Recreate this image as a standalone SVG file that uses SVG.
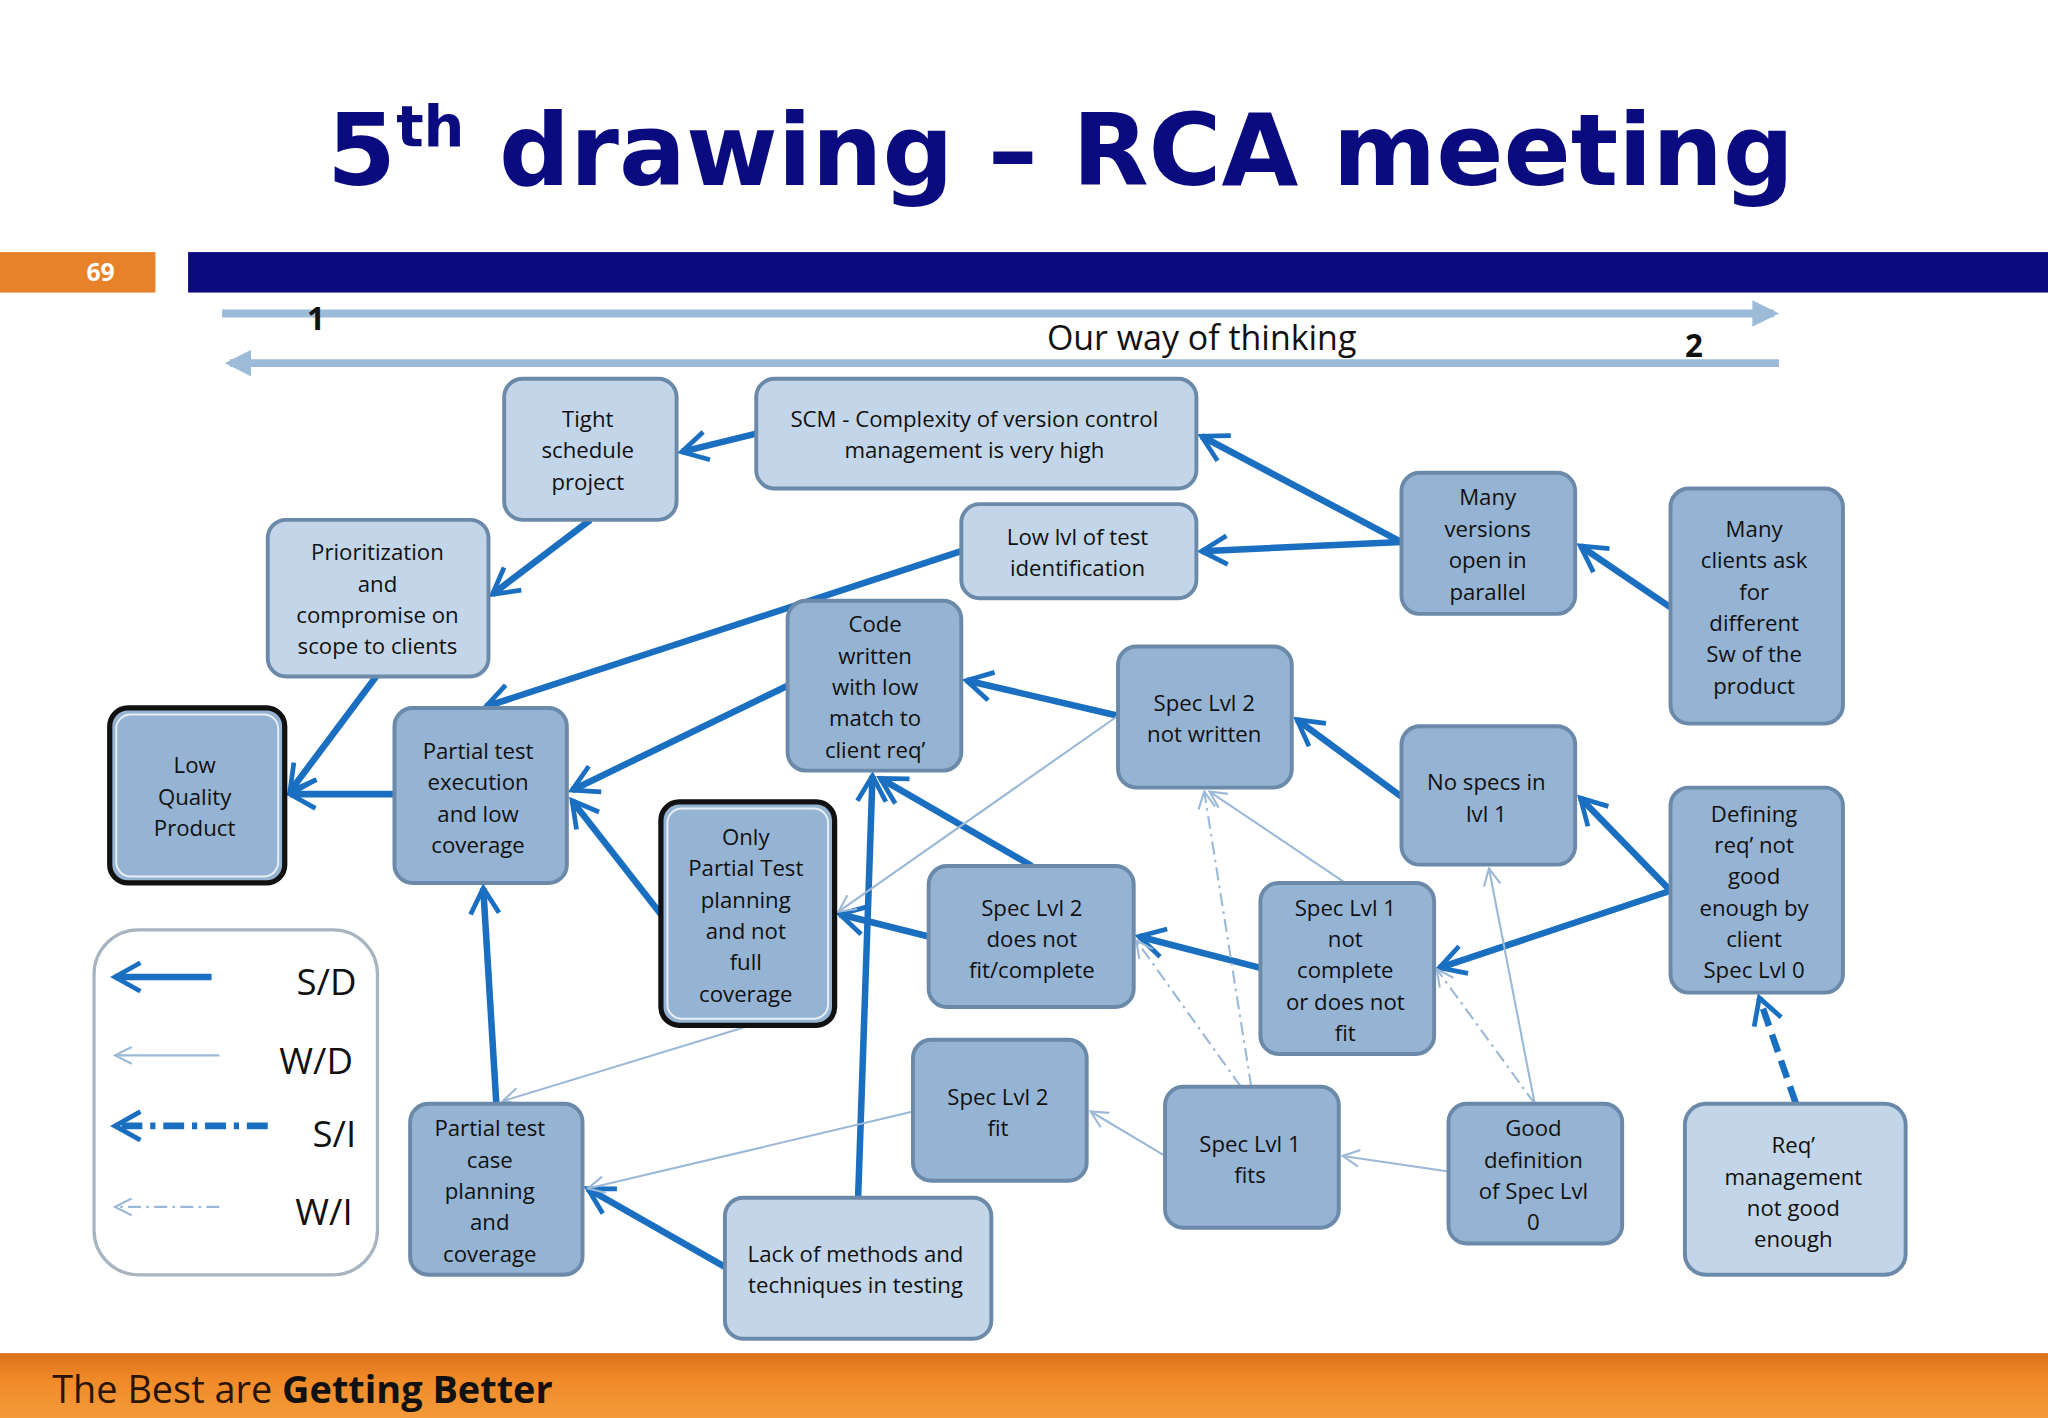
<svg xmlns="http://www.w3.org/2000/svg" width="2048" height="1418" viewBox="0 0 2048 1418">
<defs>
<linearGradient id="og" x1="0" y1="0" x2="0" y2="1"><stop offset="0" stop-color="#d9701a"/><stop offset="0.4" stop-color="#f08a28"/><stop offset="1" stop-color="#f39a3a"/></linearGradient>
<marker id="hs" viewBox="0 0 10 10" markerWidth="5.2" markerHeight="5.2" refX="8.5" refY="5" orient="auto" markerUnits="strokeWidth"><path d="M1,0.8 L8.5,5 L1,9.2" fill="none" stroke="#1a6fc0" stroke-width="1.4"/></marker>
<marker id="hw" viewBox="0 0 10 10" markerWidth="10" markerHeight="10" refX="9" refY="5" orient="auto" markerUnits="strokeWidth"><path d="M1,1 L9,5 L1,9" fill="none" stroke="#9bb8d6" stroke-width="1"/></marker>
<marker id="hb" viewBox="0 0 10 10" markerWidth="3.4" markerHeight="3.4" refX="8" refY="5" orient="auto" markerUnits="strokeWidth"><path d="M0,0 L10,5 L0,10 z" fill="#9bbbd9"/></marker>
<style>
.n rect{stroke:#6b89a8;stroke-width:3}
.d rect{fill:#95b3d3}
.l rect{fill:#c3d5e8}
text{font-family:"Open Sans","DejaVu Sans",sans-serif;fill:#111}
.n text{font-size:17px;text-anchor:middle}
.s{stroke:#1a6fc0;stroke-width:5;fill:none;marker-end:url(#hs)}
.w{stroke:#9bb8d6;stroke-width:1.6;fill:none;marker-end:url(#hw)}
.wi{stroke:#9bb8d6;stroke-width:1.6;fill:none;stroke-dasharray:10 4 2 4;marker-end:url(#hw)}
.si{stroke:#1a6fc0;stroke-width:5;fill:none;stroke-dasharray:16 6 4 6;marker-end:url(#hs)}
</style>
</defs>
<rect width="2048" height="1418" fill="#fff"/>
<g transform="scale(1.30612)">
<text x="812" y="142" font-weight="bold" font-size="76" text-anchor="middle" style="fill:#0b0b80;font-family:'DejaVu Sans',sans-serif">5<tspan font-size="44" dy="-30">th</tspan><tspan dy="30"> drawing – RCA meeting</tspan></text>
<rect x="0" y="193" width="119" height="31" fill="#e8822a"/>
<text x="77" y="215" font-size="19" font-weight="bold" text-anchor="middle" style="fill:#fff">69</text>
<rect x="144" y="193" width="1424" height="31" fill="#0b0b7e"/>
<line x1="170" y1="240" x2="1358" y2="240" stroke="#9bbbd9" stroke-width="6" marker-end="url(#hb)"/>
<line x1="1362" y1="278" x2="176" y2="278" stroke="#9bbbd9" stroke-width="6" marker-end="url(#hb)"/>
<text x="242" y="253" font-size="24" font-weight="bold" text-anchor="middle">1</text>
<text x="1297" y="273" font-size="24" font-weight="bold" text-anchor="middle">2</text>
<text x="920" y="268" font-size="26" text-anchor="middle">Our way of thinking</text>
<rect x="0" y="1036" width="1568" height="50" fill="url(#og)"/>
<text x="40" y="1074" font-size="29" style="fill:#2a1408">The Best are <tspan font-weight="bold" style="fill:#111">Getting Better</tspan></text>

<g id="connectors">
<line class="s" x1="579" y1="332" x2="522" y2="346"/>
<line class="s" x1="452" y1="398" x2="377" y2="455"/>
<line class="s" x1="1073" y1="415" x2="920" y2="334"/>
<line class="s" x1="1073" y1="415" x2="920" y2="422"/>
<line class="s" x1="1279" y1="465" x2="1210" y2="418"/>
<line class="s" x1="736" y1="422" x2="372" y2="541"/>
<line class="s" x1="288" y1="518" x2="222" y2="606"/>
<line class="s" x1="302" y1="608" x2="222" y2="608"/>
<line class="s" x1="603" y1="525" x2="438" y2="605"/>
<line class="s" x1="856" y1="548" x2="740" y2="521"/>
<line class="s" x1="790" y1="663" x2="674" y2="596"/>
<line class="s" x1="506" y1="700" x2="438" y2="613"/>
<line class="s" x1="711" y1="717" x2="643" y2="700"/>
<line class="s" x1="965" y1="741" x2="872" y2="717"/>
<line class="s" x1="1073" y1="610" x2="993" y2="551"/>
<line class="s" x1="1279" y1="682" x2="1210" y2="611"/>
<line class="s" x1="1279" y1="682" x2="1102" y2="741"/>
<line class="s" x1="380" y1="845" x2="370" y2="680"/>
<line class="s" x1="657" y1="917" x2="668" y2="594"/>
<line class="s" x1="555" y1="970" x2="450" y2="910"/>
<line class="s" x1="1375" y1="845" x2="1347" y2="764" style="stroke-dasharray:14 7"/>
<line class="w" x1="856" y1="548" x2="642" y2="698"/>
<line class="w" x1="575" y1="785" x2="385" y2="843"/>
<line class="w" x1="699" y1="851" x2="450" y2="910"/>
<line class="w" x1="892" y1="885" x2="835" y2="851"/>
<line class="w" x1="1109" y1="897" x2="1028" y2="885"/>
<line class="w" x1="1175" y1="845" x2="1140" y2="665"/>
<line class="w" x1="1030" y1="676" x2="926" y2="606"/>
<line class="wi" x1="958" y1="832" x2="922" y2="606"/>
<line class="wi" x1="950" y1="832" x2="870" y2="720"/>
<line class="wi" x1="1175" y1="845" x2="1100" y2="742"/>
</g>

<g id="n-tight" class="n l"><rect x="386" y="290" width="132" height="108" rx="14"/><text x="450"><tspan x="450" y="327">Tight</tspan><tspan x="450" y="351">schedule</tspan><tspan x="450" y="375">project</tspan></text></g>
<g id="n-scm" class="n l"><rect x="579" y="290" width="337" height="84" rx="14"/><text><tspan x="746" y="327">SCM - Complexity of version control</tspan><tspan x="746" y="351">management  is very high</tspan></text></g>
<g id="n-prio" class="n l"><rect x="205" y="398" width="169" height="120" rx="14"/><text><tspan x="289" y="429">Prioritization</tspan><tspan x="289" y="453">and</tspan><tspan x="289" y="477">compromise on</tspan><tspan x="289" y="501">scope to clients</tspan></text></g>
<g id="n-lowlvl" class="n l"><rect x="736" y="386" width="180" height="72" rx="14"/><text><tspan x="825" y="417">Low lvl of test</tspan><tspan x="825" y="441">identification</tspan></text></g>
<g id="n-manyver" class="n d"><rect x="1073" y="362" width="133" height="108" rx="14"/><text><tspan x="1139" y="387">Many</tspan><tspan x="1139" y="411">versions</tspan><tspan x="1139" y="435">open in</tspan><tspan x="1139" y="459">parallel</tspan></text></g>
<g id="n-manycli" class="n d"><rect x="1279" y="374" width="132" height="180" rx="14"/><text><tspan x="1343" y="411">Many</tspan><tspan x="1343" y="435">clients ask</tspan><tspan x="1343" y="459">for</tspan><tspan x="1343" y="483">different</tspan><tspan x="1343" y="507">Sw of  the</tspan><tspan x="1343" y="531">product</tspan></text></g>
<g id="n-code" class="n d"><rect x="603" y="460" width="133" height="130" rx="14"/><text><tspan x="670" y="484">Code</tspan><tspan x="670" y="508">written</tspan><tspan x="670" y="532">with low</tspan><tspan x="670" y="556">match to</tspan><tspan x="670" y="580">client req’</tspan></text></g>
<g id="n-s2nw" class="n d"><rect x="856" y="495" width="133" height="108" rx="14"/><text><tspan x="922" y="544">Spec Lvl 2</tspan><tspan x="922" y="568">not written</tspan></text></g>
<g id="n-nospec" class="n d"><rect x="1073" y="556" width="133" height="106" rx="14"/><text><tspan x="1138" y="605">No specs in</tspan><tspan x="1138" y="629">lvl 1</tspan></text></g>
<g id="n-lowq" class="n d"><rect x="84" y="542" width="134" height="134" rx="14" style="stroke:#111;stroke-width:4"/><rect x="89" y="547" width="124" height="124" rx="11" style="stroke:#e8eef5;stroke-width:1.5"/><text><tspan x="149" y="592">Low</tspan><tspan x="149" y="616">Quality</tspan><tspan x="149" y="640">Product</tspan></text></g>
<g id="n-pte" class="n d"><rect x="302" y="542" width="132" height="134" rx="14"/><text><tspan x="366" y="581">Partial test</tspan><tspan x="366" y="605">execution</tspan><tspan x="366" y="629">and low</tspan><tspan x="366" y="653">coverage</tspan></text></g>
<g id="n-optp" class="n d"><rect x="506" y="614" width="133" height="171" rx="14" style="stroke:#111;stroke-width:4"/><rect x="511" y="619" width="123" height="161" rx="11" style="stroke:#e8eef5;stroke-width:1.5"/><text><tspan x="571" y="647">Only</tspan><tspan x="571" y="671">Partial Test</tspan><tspan x="571" y="695">planning</tspan><tspan x="571" y="719">and not</tspan><tspan x="571" y="743">full</tspan><tspan x="571" y="767">coverage</tspan></text></g>
<g id="n-s2dnf" class="n d"><rect x="711" y="663" width="157" height="108" rx="14"/><text><tspan x="790" y="701">Spec Lvl 2</tspan><tspan x="790" y="725">does not</tspan><tspan x="790" y="749">fit/complete</tspan></text></g>
<g id="n-s1nc" class="n d"><rect x="965" y="676" width="133" height="131" rx="14"/><text><tspan x="1030" y="701">Spec Lvl 1</tspan><tspan x="1030" y="725">not</tspan><tspan x="1030" y="749">complete</tspan><tspan x="1030" y="773">or does not</tspan><tspan x="1030" y="797">fit</tspan></text></g>
<g id="n-def" class="n d"><rect x="1279" y="603" width="132" height="157" rx="14"/><text><tspan x="1343" y="629">Defining</tspan><tspan x="1343" y="653">req’ not</tspan><tspan x="1343" y="677">good</tspan><tspan x="1343" y="701">enough by</tspan><tspan x="1343" y="725">client</tspan><tspan x="1343" y="749">Spec Lvl 0</tspan></text></g>
<g id="n-s2fit" class="n d"><rect x="699" y="796" width="133" height="108" rx="14"/><text><tspan x="764" y="846">Spec Lvl 2</tspan><tspan x="764" y="870">fit</tspan></text></g>
<g id="n-s1fit" class="n d"><rect x="892" y="832" width="133" height="108" rx="14"/><text><tspan x="957" y="882">Spec Lvl 1</tspan><tspan x="957" y="906">fits</tspan></text></g>
<g id="n-good" class="n d"><rect x="1109" y="845" width="133" height="107" rx="14"/><text><tspan x="1174" y="870">Good</tspan><tspan x="1174" y="894">definition</tspan><tspan x="1174" y="918">of Spec Lvl</tspan><tspan x="1174" y="942">0</tspan></text></g>
<g id="n-reqm" class="n l"><rect x="1290" y="845" width="169" height="131" rx="16"/><text><tspan x="1373" y="883">Req’</tspan><tspan x="1373" y="907">management</tspan><tspan x="1373" y="931">not good</tspan><tspan x="1373" y="955">enough</tspan></text></g>
<g id="n-ptcp" class="n d"><rect x="314" y="845" width="132" height="131" rx="14"/><text><tspan x="375" y="870">Partial test</tspan><tspan x="375" y="894">case</tspan><tspan x="375" y="918">planning</tspan><tspan x="375" y="942">and</tspan><tspan x="375" y="966">coverage</tspan></text></g>
<g id="n-lack" class="n l"><rect x="555" y="917" width="204" height="108" rx="14"/><text><tspan x="655" y="966">Lack of methods and</tspan><tspan x="655" y="990">techniques in testing</tspan></text></g>

<g id="legend">
<rect x="72" y="712" width="217" height="264" rx="34" fill="#fff" stroke="#a8b4c0" stroke-width="2.5"/>
<line class="s" x1="162" y1="748" x2="88" y2="748"/>
<line class="w" x1="168" y1="808" x2="88" y2="808"/>
<line class="si" x1="205" y1="862" x2="88" y2="862"/>
<line class="wi" x1="168" y1="924" x2="88" y2="924"/>
<text x="250" y="762" font-size="28" text-anchor="middle">S/D</text>
<text x="242" y="822" font-size="28" text-anchor="middle">W/D</text>
<text x="256" y="878" font-size="28" text-anchor="middle">S/I</text>
<text x="248" y="938" font-size="28" text-anchor="middle">W/I</text>
</g>
</g>
</svg>
